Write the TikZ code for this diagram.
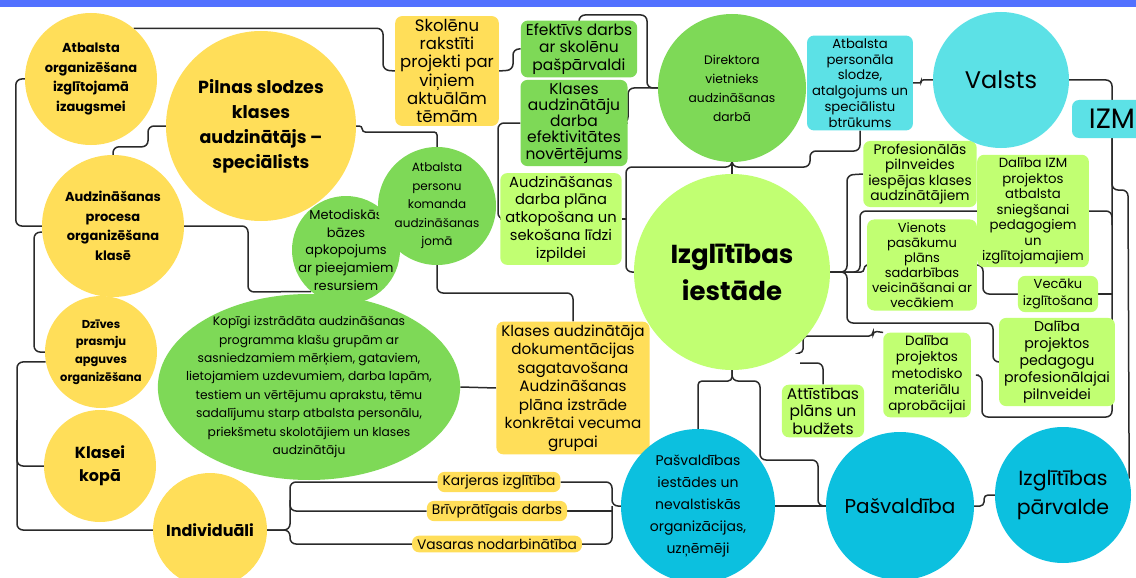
\documentclass[tikz,border=0pt]{standalone}
\usepackage{fontspec}
\setmainfont{Poppins}
\usetikzlibrary{shapes.geometric,backgrounds}
\definecolor{ylw}{HTML}{FFDE59}
\definecolor{grn}{HTML}{7ED957}
\definecolor{lgrn}{HTML}{C1FF72}
\definecolor{cyn}{HTML}{5CE1E6}
\definecolor{blu}{HTML}{0CC0DF}
\definecolor{topbar}{HTML}{5271FF}
\definecolor{ln}{HTML}{2A2A2A}
\begin{document}
\begin{tikzpicture}[x=1pt,y=-1pt,
    every node/.append style={inner sep=0pt,align=center,text=black},
    ycirc/.style={circle,fill=ylw,font=\bfseries\fontsize{13}{19.5}\selectfont},
    gcirc/.style={circle,fill=grn,inner sep=-6pt,font=\fontsize{12}{18.5}\selectfont},
    lcirc/.style={circle,fill=lgrn},
    ccirc/.style={circle,fill=cyn},
    bcirc/.style={circle,fill=blu,inner sep=-4pt},
    tbox/.style={rounded corners=7pt,inner xsep=5pt,inner ysep=3pt,font=\fontsize{13.8}{17}\selectfont},
    ybox/.style={tbox,fill=ylw},
    gbox/.style={tbox,fill=grn},
    lbox/.style={tbox,fill=lgrn},
    cbox/.style={tbox,fill=cyn},
    link/.style={draw=ln,line width=1.5pt,rounded corners=6pt}]
    \useasboundingbox (0,0) rectangle (1136,578);
    \clip (0,0) rectangle (1136,578);
    % yellow side
    \node [ycirc,minimum size=132pt] (atb) at (91,79) {Atbalsta\\organizēšana\\izglītojamā\\izaugsmei};
    \node [ycirc,minimum size=190pt,font=\bfseries\fontsize{17.5}{25}\selectfont] (pilnas) at (261,126) {Pilnas slodzes\\klases\\audzinātājs –\\speciālists};
    \node [ycirc,minimum size=142pt] (proc) at (113,226) {Audzināšanas\\procesa\\organizēšana\\klasē};
    \node [ycirc,minimum size=112pt,inner sep=-5pt,font=\bfseries\fontsize{11.5}{17.7}\selectfont] (dziv) at (101,352) {Dzīves\\prasmju\\apguves\\organizēšana};
    \node [ycirc,minimum size=112pt,font=\bfseries\fontsize{16}{23}\selectfont] (kopa) at (100,466) {Klasei\\kopā};
    \node [ycirc,minimum size=114pt,font=\bfseries\fontsize{16}{20}\selectfont] (indiv) at (210,530) {Individuāli};
    \node [ybox,font=\fontsize{16.5}{18.3}\selectfont] (skol) at (447,71) {Skolēnu\\rakstīti\\projekti par\\viņiem\\aktuālām\\tēmām};
    \node [ybox,font=\fontsize{15.2}{18.5}\selectfont] (dok) at (573,388) {Klases audzinātāja\\dokumentācijas\\sagatavošana\\Audzināšanas\\plāna izstrāde\\konkrētai vecuma\\grupai};
    \node [ybox] (karj) at (499,482) {Karjeras izglītība};
    \node [ybox] (briv) at (497,511) {Brīvprātīgais darbs};
    \node [ybox] (vas) at (497,544) {Vasaras nodarbinātība};
    % green side
    \node [gcirc,minimum size=108pt,inner sep=-9pt,font=\fontsize{13}{17.6}\selectfont] (metod) at (346,250) {Metodiskās\\bāzes\\apkopojums\\ar pieejamiem\\resursiem};
    \node [gcirc,minimum size=118pt] (komanda) at (437,206) {Atbalsta\\personu\\komanda\\audzināšanas\\jomā};
    \node [ellipse,fill=grn,minimum width=302pt,minimum height=186pt,inner xsep=-16pt,inner ysep=-8pt,font=\fontsize{12.25}{18.4}\selectfont] (kopigi) at (309,387) {Kopīgi izstrādāta audzināšanas\\programma klašu grupām ar\\sasniedzamiem mērķiem, gataviem,\\lietojamiem uzdevumiem, darba lapām,\\testiem un vērtējumu aprakstu, tēmu\\sadalījumu starp atbalsta personālu,\\priekšmetu skolotājiem un klases\\audzinātāju};
    \node [gcirc,minimum size=148pt,font=\fontsize{12.3}{19}\selectfont] (direkt) at (732,88) {Direktora\\vietnieks\\audzināšanas\\darbā};
    \node [gbox,font=\fontsize{15.5}{17.5}\selectfont] (efekt) at (579,49) {Efektīvs darbs\\ar skolēnu\\pašpārvaldi};
    \node [gbox,font=\fontsize{15.5}{16.2}\selectfont] (novert) at (574,123) {Klases\\audzinātāju\\darba\\efektivitātes\\novērtējums};
    % iestade
    \node [lcirc,minimum size=196pt,font=\bfseries\fontsize{26}{37}\selectfont] (iestade) at (732,272) {Izglītības\\iestāde};
    \node [lbox,font=\fontsize{14.7}{17.7}\selectfont] (plans) at (561,219) {Audzināšanas\\darba plāna\\atkopošana un\\sekošana līdzi\\izpildei};
    \node [lbox,font=\fontsize{13.8}{15.3}\selectfont] (profes) at (920,174) {Profesionālās\\pilnveides\\iespējas klases\\audzinātājiem};
    \node [lbox,font=\fontsize{13.3}{15.5}\selectfont] (izmproj) at (1033,211) {Dalība IZM\\projektos\\atbalsta\\sniegšanai\\pedagogiem\\un\\izglītojamajiem};
    \node [lbox,font=\fontsize{13}{15}\selectfont] (vienots) at (922,265) {Vienots\\pasākumu\\plāns\\sadarbības\\veicināšanai ar\\vecākiem};
    \node [lbox,font=\fontsize{13}{17}\selectfont] (vecaku) at (1058,294) {Vecāku\\izglītošana};
    \node [lbox,font=\fontsize{14.2}{17}\selectfont] (pedag) at (1057,362) {Dalība\\projektos\\pedagogu\\profesionālajai\\pilnveidei};
    \node [lbox,font=\fontsize{13.5}{16.3}\selectfont] (metmat) at (927,375) {Dalība\\projektos\\metodisko\\materiālu\\aprobācijai};
    \node [lbox,font=\fontsize{15.5}{17.5}\selectfont] (attist) at (823,411) {Attīstības\\plāns un\\budžets};
    % state and municipality
    \node [ccirc,minimum size=136pt,font=\fontsize{24}{30}\selectfont] (valsts) at (1001,80) {Valsts};
    \node [cbox,font=\fontsize{13.2}{15.8}\selectfont] (atbpers) at (860,83) {Atbalsta\\personāla\\slodze,\\atalgojums un\\speciālistu\\btrūkums};
    \node [cbox,minimum width=80pt,minimum height=38pt,font=\fontsize{28}{30}\selectfont] (izm) at (1112,119) {IZM};
    \node [bcirc,minimum size=154pt,font=\fontsize{14}{22}\selectfont] (pasiest) at (698,506) {Pašvaldības\\iestādes un\\nevalstiskās\\organizācijas,\\uzņēmēji};
    \node [bcirc,minimum size=148pt,font=\fontsize{20}{26}\selectfont] (pasv) at (900,506) {Pašvaldība};
    \node [bcirc,minimum size=136pt,font=\fontsize{20.5}{29}\selectfont] (parv) at (1063,495) {Izglītības\\pārvalde};
    \coordinate (jx) at (732,167);
    \coordinate (gN) at (800,353);
    \coordinate (gO) at (800,363);
    \begin{scope}[on background layer]
    \fill [white] (0,0) rectangle (1136,578);
    % left column
    \draw [link] (atb.50) -| (383,70) -- (skol.west);
    \draw [link] (atb.west) -- ++(-9,0) |- (proc.west);
    \draw [link] (proc.185) -- ++(-8,0) |- (dziv.west);
    \draw [link] (dziv.190) -- (17,362) |- (indiv.west);
    \draw [link] (17,420) |- (kopa.west);
    \draw [link] (proc.east) -| (248,292) -- (metod.230);
    \draw [link] (proc.north) -- ++(0,-8) -| (148,126) -- (pilnas.west);
    \draw [link,rounded corners=3pt] (pilnas.east) -| ++(6,6) -| (komanda.north);
    \draw [link] (komanda.south) |- (573,293) -- (dok.north);
    \draw [link] (kopigi.east) -- (dok.west);
    \draw [link] (indiv.east) -| (290,482) -- (karj.west);
    \draw [link] (indiv.east) -| (290,544) -- (vas.west);
    \draw [link] (290,500) |- (briv.west);
    \draw [link] (karj.east) -| (612,506) -- (pasiest.west);
    \draw [link] (vas.east) -| (612,506);
    \draw [link] (briv.east) -- (612,511);
    % municipality
    \draw [link] (pasiest.east) -- (pasv.west);
    \draw [link,rounded corners=4pt] (pasiest.north) |- (iestade.south |- 0,381) -- (iestade.south);
    \draw [link] (iestade.south) |- (760,381) |- (818,460) |- (pasv.west);
    \draw [link,rounded corners=4pt] (pasv.east) -| (984,495) -- (parv.west);
    % state
    \draw [link] (valsts.east) -| (izm.north);
    \draw [link] (izm.south) |- (1128,190) -- (parv.14);
    \draw [link] (izm.south) |- (982,417) |- ([xshift=8pt]metmat.east);
    \draw [link] (izmproj.east) -| (1112,225);
    \draw [link] (vecaku.east) -- (1112,294);
    % school
    \draw [link] (iestade.east) -| (847,175) -- (profes.west);
    \draw [link] (iestade.east) -| (860,211) -- (izmproj.west);
    \draw [link,rounded corners=3pt] (iestade.east) -| (864,266) -- (vienots.west);
    \draw [link] (iestade.east) -| (847,323) -| (993,362) -- (pedag.west);
    \draw [link] (vienots.east) -| (983,294) -- (vecaku.west);
    \draw [link,rounded corners=4pt] (gN) -| (803,336) -| (873,331) -- (metmat.north west);
    \draw [link] (gO) -| (attist.north);
    \draw [link,rounded corners=2pt] (atbpers.east) -- ++(8,0) |- (valsts.west);
    \draw [link] (atbpers.south) |- (810,151) |- (jx) -- (direkt.south);
    \draw [link] (direkt.south) -- (iestade.north);
    \draw [link] (iestade.west) -| (626,167) -| (direkt.south);
    \draw [link] (plans.east) -- (626,219);
    \draw [link] (direkt.west) -- (628,88) |- (novert.east);
    \draw [link] (direkt.west) -| (647,15) -| (efekt.north);
    \draw [link] (efekt.west) -| (513,70) -- (skol.east);
    \draw [link] (novert.west) -| (498,219) -- (plans.west);
    \end{scope}
    \fill [topbar] (0,0) rectangle (1136,7);
\end{tikzpicture}
\end{document}
